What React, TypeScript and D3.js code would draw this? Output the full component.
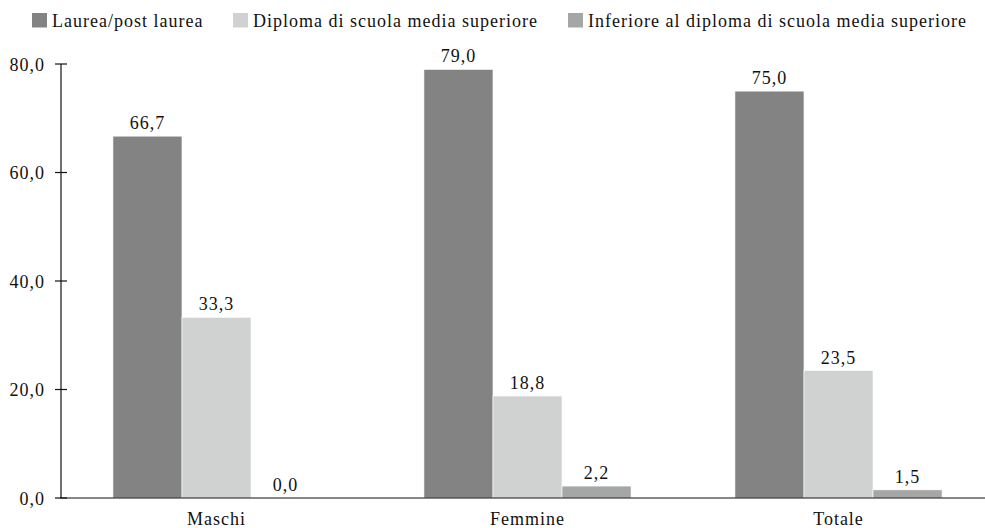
import React from "react";
import * as d3 from "d3";

const categories = ["Maschi", "Femmine", "Totale"];
const seriesNames = [
  "Laurea/post laurea",
  "Diploma di scuola media superiore",
  "Inferiore al diploma di scuola media superiore",
];
const laurea = [66.7, 79.0, 75.0];
const diploma = [33.3, 18.8, 23.5];
const inferiore = [0.0, 2.2, 1.5];
const yTicks = [0, 20, 40, 60, 80];
const colors = ["#828382", "#d0d1d1", "#a5a6a6"];

const W = 985;
const H = 528;
const textStyle: React.CSSProperties = {
  fontFamily: "Liberation Serif",
  fontSize: 18,
  letterSpacing: 1,
};

export default function App() {
  const series = [laurea, diploma, inferiore];
  const x0 = d3.scaleBand<string>().domain(categories).range([61, 994]).padding(0);
  const groupW = x0.bandwidth() * 0.666;
  const x1 = d3.scaleBand<number>().domain([0, 1, 2]).range([0, groupW]).padding(0);
  const y = d3.scaleLinear().domain([0, 80]).range([498, 64]);
  const fmt = (v: number) => v.toFixed(1).replace(".", ",");

  const legendX = [32, 233, 568];

  return (
    <svg width={W} height={H} style={{ position: "absolute", left: 0, top: 0 }}>
      <rect width={W} height={H} fill="#fff" />
      {/* legend */}
      {seriesNames.map((name, i) => (
        <g key={name} transform={`translate(${legendX[i]},13)`}>
          <rect width={15} height={14.5} fill={colors[i]} />
          <text x={20} y={13.5} style={textStyle} fill="#111">
            {name}
          </text>
        </g>
      ))}
      {/* bars */}
      {categories.map((c, ci) => {
        const gx = x0(c)! + (x0.bandwidth() - groupW) / 2;
        return (
          <g key={c} transform={`translate(${gx},0)`}>
            {series.map((s, si) => {
              const v = s[ci];
              const bx = x1(si)!;
              const bw = x1.bandwidth();
              return (
                <g key={si}>
                  {v > 0 && (
                    <rect
                      x={bx}
                      y={y(v)}
                      width={bw}
                      height={y(0) - y(v)}
                      fill={colors[si]}
                      stroke="#fff"
                      strokeWidth={0.6}
                    />
                  )}
                  <text
                    x={bx + bw / 2}
                    y={y(v) - 7}
                    textAnchor="middle"
                    style={textStyle}
                    fill="#111"
                  >
                    {fmt(v)}
                  </text>
                </g>
              );
            })}
          </g>
        );
      })}
      {/* y axis */}
      <line x1={61} x2={61} y1={y(80)} y2={y(0)} stroke="#111" strokeWidth={1.2} />
      {yTicks.map((t) => (
        <g key={t}>
          <line x1={55} x2={67} y1={y(t)} y2={y(t)} stroke="#111" strokeWidth={1.2} />
          <text x={45} y={y(t) + 6.5} textAnchor="end" style={textStyle} fill="#111">
            {fmt(t)}
          </text>
        </g>
      ))}
      {/* x axis */}
      <line x1={60} x2={985} y1={y(0)} y2={y(0)} stroke="#111" strokeWidth={1.2} />
      {categories.map((c) => (
        <text
          key={c}
          x={x0(c)! + x0.bandwidth() / 2}
          y={525}
          textAnchor="middle"
          style={textStyle}
          fill="#111"
        >
          {c}
        </text>
      ))}
    </svg>
  );
}
